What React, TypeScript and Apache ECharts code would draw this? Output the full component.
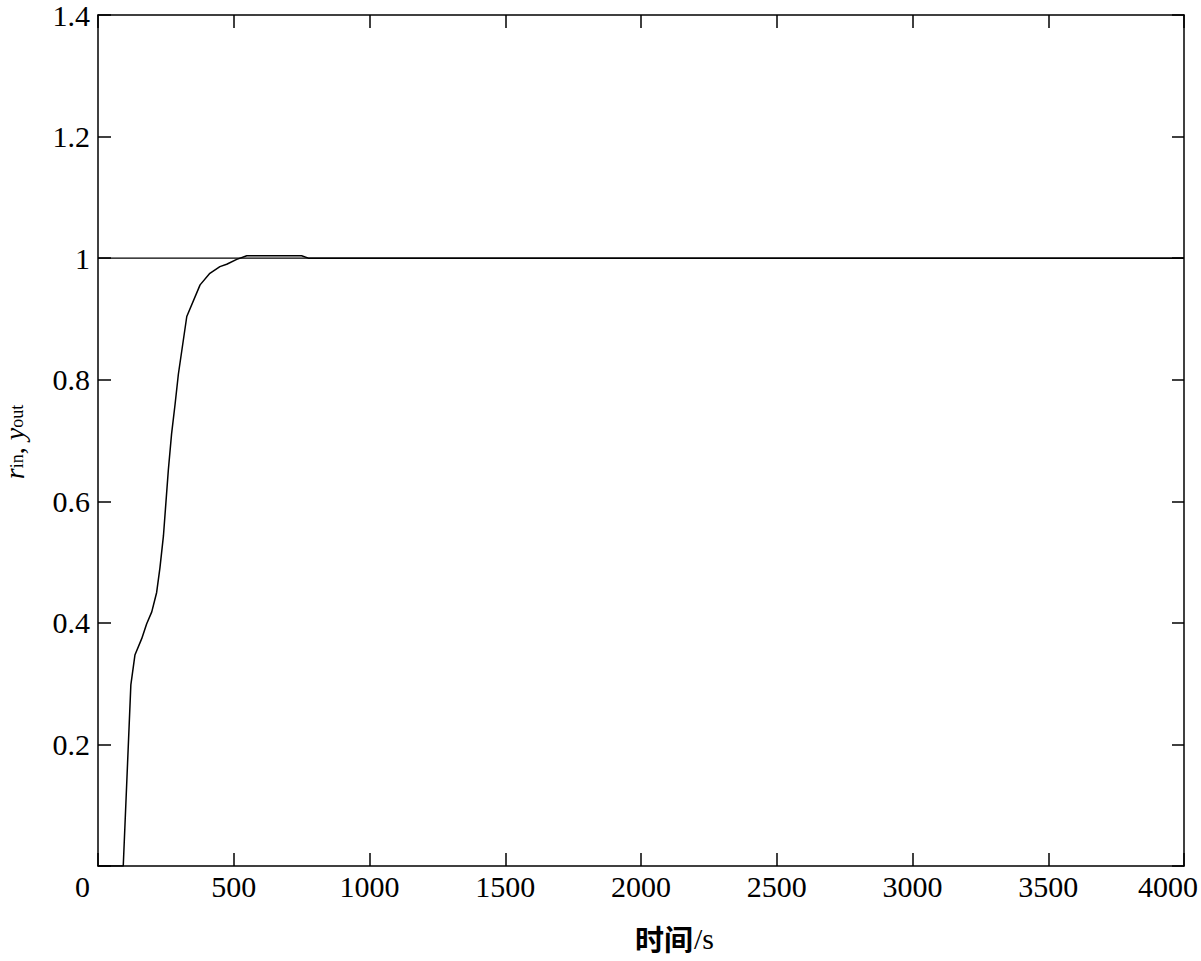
import React, { useEffect, useRef } from "react";
import * as echarts from "echarts";

const xTicks = [0, 500, 1000, 1500, 2000, 2500, 3000, 3500, 4000];
const yTicks = [0, 0.2, 0.4, 0.6, 0.8, 1.0, 1.2, 1.4];

const tIn = [0, 4000];
const rIn = [1, 1];

const tOut = [0, 93, 121, 136, 161, 179, 198, 216, 228, 241, 259, 271, 284, 296, 327, 376, 412, 449, 474, 511, 548, 750, 775, 4000];
const yOut = [0, 0, 0.298, 0.347, 0.374, 0.398, 0.418, 0.45, 0.49, 0.543, 0.651, 0.711, 0.76, 0.809, 0.904, 0.956, 0.975, 0.986, 0.99, 0.998, 1.004, 1.004, 1.0, 1.0];

const FONT = "'Liberation Serif', 'Times New Roman', serif";

export default function App() {
  const ref = useRef<HTMLDivElement>(null);
  useEffect(() => {
    if (!ref.current) return;
    const chart = echarts.init(ref.current, null, { renderer: "svg" });
    const axisLine = { show: true, onZero: false, lineStyle: { color: "#000", width: 1.5 } };
    const tick = { show: true, inside: true, length: 13, lineStyle: { color: "#000", width: 1.5 } };
    const xMin = xTicks[0];
    const xMax = xTicks[xTicks.length - 1];
    const yMin = yTicks[0];
    const yMax = yTicks[yTicks.length - 1];
    chart.setOption({
      animation: false,
      backgroundColor: "#fff",
      grid: { left: 98, right: 17, top: 10, bottom: 95, containLabel: false },
      xAxis: [
        {
          type: "value", position: "bottom", min: xMin, max: xMax, interval: 500,
          axisLine, axisTick: tick, splitLine: { show: false },
          axisLabel: {
            color: "#000", fontFamily: FONT, fontSize: 30, margin: 5,
            showMinLabel: true, showMaxLabel: true,
            formatter: (v: number) => (v === xMin ? "{l|" + v + "}" : v === xMax ? "{r|" + v + "}" : String(v)),
            rich: {
              l: { fontFamily: FONT, fontSize: 30, color: "#000", padding: [0, 31, 0, 0] },
              r: { fontFamily: FONT, fontSize: 30, color: "#000", padding: [0, 32, 0, 0] },
            },
          },
        },
        {
          type: "value", position: "top", min: xMin, max: xMax, interval: 500,
          axisLine, axisTick: tick, splitLine: { show: false }, axisLabel: { show: false },
        },
      ],
      yAxis: [
        {
          type: "value", position: "left", min: yMin, max: yMax, interval: 0.2,
          axisLine, axisTick: tick, splitLine: { show: false },
          axisLabel: {
            color: "#000", fontFamily: FONT, fontSize: 30, margin: 8,
            showMaxLabel: true,
            formatter: (v: number) => (Math.abs(v) < 1e-9 ? "" : String(Math.round(v * 10) / 10)),
          },
        },
        {
          type: "value", position: "right", min: yMin, max: yMax, interval: 0.2,
          axisLine, axisTick: { ...tick, length: 12 }, splitLine: { show: false }, axisLabel: { show: false },
        },
      ],
      series: [
        {
          type: "line", name: "r_in", showSymbol: false, symbol: "none",
          data: tIn.map((t, i) => [t, rIn[i]]),
          lineStyle: { color: "#000", width: 1.3 },
        },
        {
          type: "line", name: "y_out", showSymbol: false, symbol: "none",
          data: tOut.map((t, i) => [t, yOut[i]]),
          lineStyle: { color: "#000", width: 1.5 },
        },
      ],
      graphic: [
        {
          type: "text", x: 635, y: 938,
          style: {
            text: "时间", font: "bold 29px 'Noto Sans CJK SC', sans-serif", fill: "#000",
            lineHeight: 30, align: "left", verticalAlign: "middle",
          },
        },
        {
          type: "text", x: 694, y: 938,
          style: {
            text: "/s", font: `30px ${FONT}`, fill: "#000",
            lineHeight: 30, align: "left", verticalAlign: "middle",
          },
        },
        {
          type: "text", x: 14, y: 442, rotation: Math.PI / 2,
          style: {
            text: "{i|r}{sub|in}{n|, }{i|y}{sub|out}",
            align: "center", verticalAlign: "middle",
            rich: {
              i: { fontFamily: FONT, fontStyle: "italic", fontSize: 28, lineHeight: 24, fill: "#000" },
              n: { fontFamily: FONT, fontSize: 28, lineHeight: 24, fill: "#000" },
              sub: { fontFamily: FONT, fontSize: 18, lineHeight: 24, verticalAlign: "bottom", padding: [9, 0, 0, 0], fill: "#000" },
            },
          },
        },
      ],
    });
    return () => chart.dispose();
  }, []);
  return <div ref={ref} style={{ position: "absolute", left: 0, top: 0, width: 1201, height: 961 }} />;
}
